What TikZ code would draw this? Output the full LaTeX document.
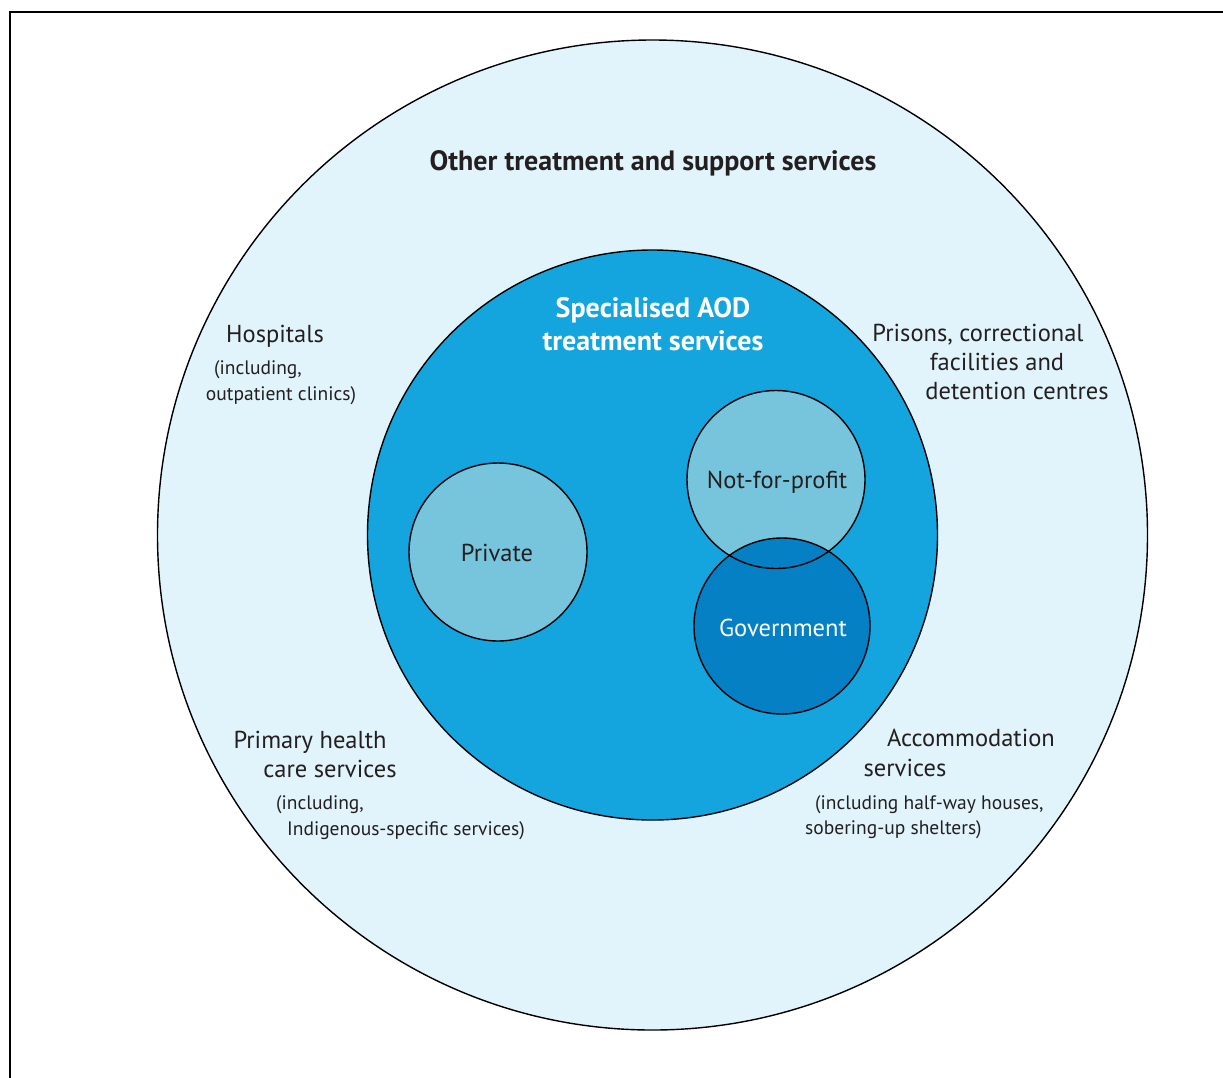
\documentclass[tikz,border=0pt]{standalone}
\usepackage{fontspec}
\setmainfont{PT Sans}
\definecolor{outerc}{HTML}{E1F3FB}
\definecolor{innerc}{HTML}{14A5DE}
\definecolor{lightc}{HTML}{77C5DC}
\definecolor{govc}{HTML}{0580C4}
\definecolor{txtc}{HTML}{231F20}
\begin{document}
\begin{tikzpicture}[x=1pt,y=-1pt,
  ring/.style={draw=black,line width=1.4pt},
  big/.style={font=\fontsize{24.5}{28}\selectfont,text=txtc,inner sep=0pt,anchor=base},
  small/.style={font=\fontsize{19.5}{22}\selectfont,text=txtc,inner sep=0pt,anchor=base},
  head/.style={font=\fontsize{28}{32}\selectfont\bfseries,inner sep=0pt,anchor=base},
  circlab/.style={font=\fontsize{24.5}{28}\selectfont,inner sep=0pt}]
\useasboundingbox (0,0) rectangle (1223,1077);
% frame
\draw[line width=2.4pt] (10,1080) -- (10,12) -- (1226,12);
% outer circle
\node[ring,fill=outerc,circle,minimum size=990pt,inner sep=0pt] (outer) at (652.5,535) {};
% inner circle
\node[ring,fill=innerc,circle,minimum size=570pt,inner sep=0pt] (inner) at (652.5,535) {};
% small circles
\node[ring,fill=lightc,circle,minimum size=178pt,inner sep=0pt] (priv) at (498,552) {};
\fill[lightc] (776,479.5) circle (89);
\fill[govc] (782,626) circle (88);
\node[ring,circle,minimum size=178pt,inner sep=0pt] (nfp) at (776,479.5) {};
\node[ring,circle,minimum size=176pt,inner sep=0pt] (gov) at (782,626) {};
\node[circlab,text=txtc] (privl) at (497,553) {Private};
\node[circlab,text=txtc] (nfpl) at (777,482) {Not-for-profit};
\node[circlab,text=white] (govl) at (783,628) {Government};
% headings
\node[head,text=txtc] (other) at (653,170) {Other treatment and support services};
\node[head,text=white] (spec1) at (653,317) {Specialised AOD};
\node[head,text=white] (spec2) at (653,350) {treatment services};
% hospitals
\node[big] (hosp1) at (275,342) {Hospitals};
\node[small] (hosp2) at (258,374) {(including,};
\node[small] (hosp3) at (281,400) {outpatient clinics)};
% prisons
\node[big] (pris1) at (978,341) {Prisons, correctional};
\node[big] (pris2) at (997,370) {facilities and};
\node[big] (pris3) at (1017,399) {detention centres};
% primary
\node[big] (prim1) at (310,748) {Primary health};
\node[big] (prim2) at (330,777) {care services};
\node[small,anchor=base west] (prim3) at (276,809) {(including,};
\node[small,anchor=base west] (prim4) at (287,835) {Indigenous-specific services)};
% accommodation
\node[big] (acc1) at (971,746) {Accommodation};
\node[big] (acc2) at (905,776) {services};
\node[small,anchor=base west] (acc3) at (815,809) {(including half-way houses,};
\node[small,anchor=base west] (acc4) at (805,834) {sobering-up shelters)};
\end{tikzpicture}
\end{document}
